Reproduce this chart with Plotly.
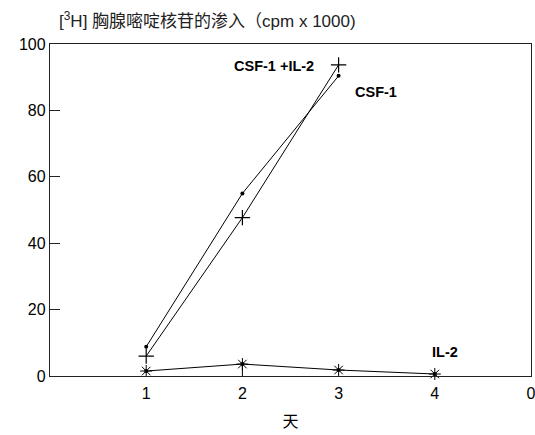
import plotly.graph_objects as go

# Days of culture
days = [1, 2, 3]
days_il2 = [1, 2, 3, 4]

# [3H] thymidine incorporation (cpm x 1000)
csf1 = [8.8, 55.0, 90.4]
csf1_il2 = [6.0, 47.7, 93.7]
il2 = [1.5, 3.6, 1.8, 0.6]

x_tickvals = [1, 2, 3, 4, 5]
x_ticktext = ["1", "2", "3", "4", "0"]
y_tickvals = [0, 20, 40, 60, 80, 100]

FONT = "Liberation Sans, Arial, Noto Sans CJK SC, sans-serif"
TITLE_FONT = "Liberation Sans, Noto Sans CJK SC, sans-serif"
CJK = "Noto Sans CJK SC, Liberation Sans, sans-serif"

fig = go.Figure()

fig.add_trace(go.Scatter(
    x=days, y=csf1, mode="lines+markers",
    line=dict(color="black", width=1),
    marker=dict(symbol="circle", size=4, color="black"),
    cliponaxis=False,
))
fig.add_trace(go.Scatter(
    x=days, y=csf1_il2, mode="lines+markers",
    line=dict(color="black", width=1),
    marker=dict(symbol="cross-thin-open", size=11,
                line=dict(color="black", width=1.2)),
    cliponaxis=False,
))
# IL-2 alone, with a drop line below the day-2 point
fig.add_trace(go.Scatter(
    x=days_il2, y=il2, mode="lines+markers",
    line=dict(color="black", width=1),
    marker=dict(symbol="asterisk-open", size=10,
                line=dict(color="black", width=1)),
    error_y=dict(type="data", symmetric=False,
                 array=[0, 0, 0, 0],
                 arrayminus=[0, il2[1], 0, 0],
                 width=0, thickness=1, color="black"),
    cliponaxis=False,
))
fig.add_trace(go.Scatter(
    x=days_il2, y=il2, mode="markers",
    marker=dict(symbol="circle", size=4, color="black"),
    cliponaxis=False,
))

label_font = dict(family=FONT, size=14.5, color="black")
fig.add_annotation(x=2.33, y=93.4, text="<b>CSF-1 +IL-2</b>", showarrow=False,
                   font=label_font, xanchor="center", yanchor="middle")
fig.add_annotation(x=3.39, y=85.6, text="<b>CSF-1</b>", showarrow=False,
                   font=label_font, xanchor="center", yanchor="middle")
fig.add_annotation(x=4.11, y=7.2, text="<b>IL-2</b>", showarrow=False,
                   font=label_font, xanchor="center", yanchor="middle")

# chart title above the y axis
fig.add_annotation(
    xref="paper", yref="paper", x=0.0, y=1.0, yshift=11,
    xshift=7,
    text="[<sup>3</sup>H] 胸腺嘧啶核苷的渗入（cpm x 1000)",
    showarrow=False, xanchor="left", yanchor="bottom",
    font=dict(family=TITLE_FONT, size=17, color="#222"),
)

fig.update_layout(
    width=535, height=435,
    margin=dict(l=50, r=4, t=44, b=59),
    paper_bgcolor="white", plot_bgcolor="white",
    showlegend=False,
    font=dict(family=FONT, size=15, color="black"),
)
fig.update_xaxes(
    range=[0, 5], tickvals=x_tickvals, ticktext=x_ticktext,
    showgrid=False, zeroline=False, automargin=False,
    showline=True, linecolor="#222", linewidth=1.3, mirror=True,
    ticks="", ticklabelstandoff=3, ticklabeloverflow="allow",
    tickfont=dict(family=FONT, size=16, color="black"),
    title=dict(text="天", font=dict(family=CJK, size=16, color="black"), standoff=14),
)
fig.update_yaxes(
    range=[0, 100], tickvals=y_tickvals,
    showgrid=False, zeroline=False, automargin=False,
    showline=True, linecolor="#222", linewidth=1.3, mirror=True,
    ticks="inside", ticklen=10, tickwidth=1, tickcolor="#222",
    tickfont=dict(family=FONT, size=16, color="black"),
)

fig.write_html("out.html")
